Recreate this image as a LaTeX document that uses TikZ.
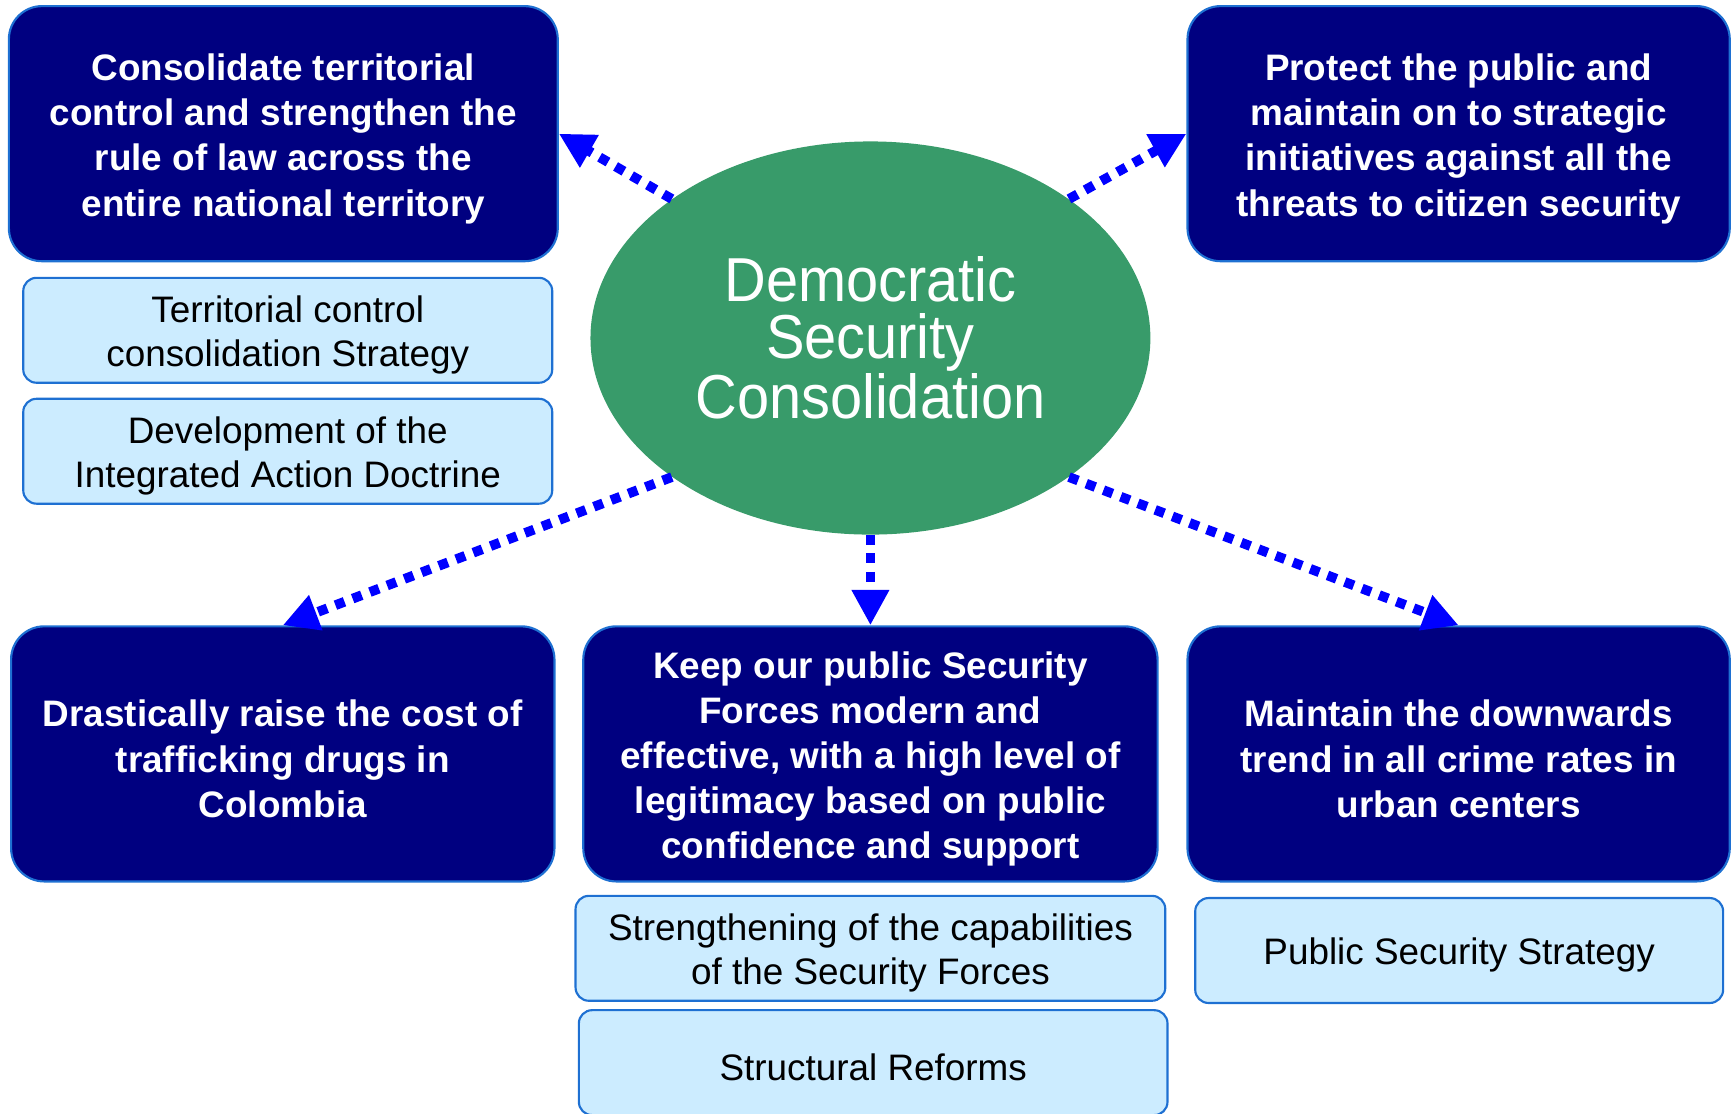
\documentclass[tikz,border=0pt]{standalone}
\usepackage{fontspec}
\setmainfont{Liberation Sans}
\newfontfamily\narrowsans[FakeStretch=0.93]{Liberation Sans}
\usetikzlibrary{shapes.geometric,arrows.meta}
\definecolor{goalnavy}{RGB}{0,0,128}
\definecolor{edgeblue}{RGB}{30,112,210}
\definecolor{actionfill}{RGB}{204,236,255}
\definecolor{coregreen}{RGB}{56,155,106}
\definecolor{linkblue}{RGB}{0,0,255}
\begin{document}
\begin{tikzpicture}[x=0.02cm, y=-0.02cm,
    goal/.style={draw=edgeblue, line width=1.1pt, fill=goalnavy, rounded corners=0.6cm,
        text=white, align=flush center, inner sep=0pt, minimum height=4.62cm,
        font=\bfseries\fontsize{19}{23.3}\selectfont,
        execute at begin node={\rule{0pt}{19pt}}},
    action/.style={draw=edgeblue, line width=1.1pt, fill=actionfill, rounded corners=0.24cm,
        align=flush center, inner sep=0pt, minimum height=1.9cm,
        font=\fontsize{19}{22.8}\selectfont,
        execute at begin node={\rule{0pt}{18.5pt}}},
    link/.style={linkblue, line width=5pt, dash pattern=on 5pt off 4.5pt,
        -{Triangle[length=0.64cm, width=0.64cm]}}]
    \useasboundingbox (0,0) rectangle (1568,1008);

    \node[ellipse, fill=coregreen, minimum width=10.14cm, minimum height=7.12cm, inner sep=0pt,
        text=white, align=center, font=\narrowsans\fontsize{32}{29.3}\selectfont]
        (core) at (788,306) {Democratic\\Security\\Consolidation};

    \node[goal, text width=9.94cm] (territory) at (256.5,121)
        {Consolidate territorial\\control and strengthen the\\rule of law across the\\entire national territory};
    \node[goal, text width=9.82cm] (protect) at (1320.5,121)
        {Protect the public and\\maintain on to strategic\\initiatives against all the\\threats to citizen security};
    \node[goal, text width=9.84cm] (drugs) at (256,682.5)
        {Drastically raise the cost of\\trafficking drugs in\\Colombia};
    \node[goal, text width=10.4cm] (forces) at (788,682.5)
        {Keep our public Security\\Forces modern and\\effective, with a high level of\\legitimacy based on public\\confidence and support};
    \node[goal, text width=9.82cm] (crime) at (1320.5,682.5)
        {Maintain the downwards\\trend in all crime rates in\\urban centers};

    \node[action, text width=9.58cm] (strategy) at (260.5,299)
        {Territorial control\\consolidation Strategy};
    \node[action, text width=9.58cm] (doctrine) at (260.5,408.5)
        {Development of the\\Integrated Action Doctrine};
    \node[action, text width=10.68cm] (capable) at (788,858.5)
        {Strengthening of the capabilities\\of the Security Forces};
    \node[action, text width=10.66cm] (reforms) at (790.5,962)
        {Structural Reforms};
    \node[action, text width=9.56cm] (publicsec) at (1321,860.5)
        {Public Security Strategy};

    \draw[link] (core.145) -- (territory.east);
    \draw[link] (core.35) -- (protect.west);
    \draw[link] (core.215) -- (drugs.north);
    \draw[link] (core.south) -- (forces.north);
    \draw[link] (core.325) -- (crime.north);
\end{tikzpicture}
\end{document}
